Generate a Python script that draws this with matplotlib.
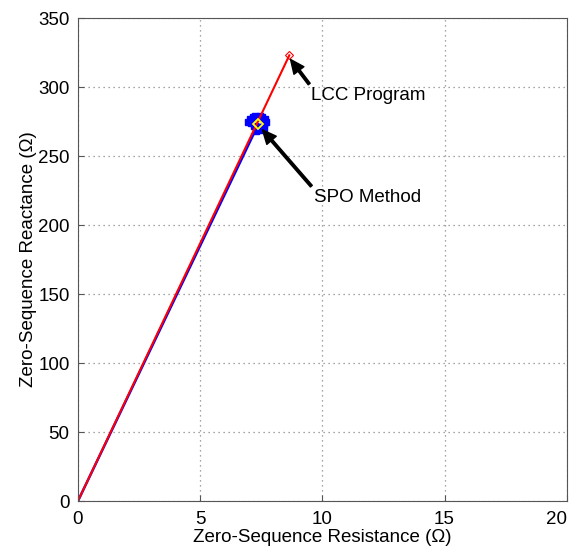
import numpy as np
import matplotlib.pyplot as plt

plt.rcParams['font.family'] = ['Liberation Sans', 'DejaVu Sans']

# LCC program result (red) and SPO method estimates (blue)
lcc_r = [0.0, 8.65]
lcc_x = [0.0, 323.0]
spo_r = [0.0, 7.38]
spo_x = [0.0, 273.0]
spo_cloud_r = [6.95, 7.05, 7.15, 7.25, 7.35, 7.45, 7.55, 7.65, 7.7, 7.2, 7.3, 7.4, 7.5, 7.6, 7.3, 7.45, 7.1, 7.6]
spo_cloud_x = [275, 277, 278, 279, 278, 279, 278, 277, 275, 272, 271, 270, 271, 273, 268, 269, 274, 270]

fig = plt.figure(figsize=(5.73, 5.47), dpi=100)
ax = fig.add_axes([0.136, 0.084, 0.853, 0.883])

ax.plot(spo_r, spo_x, color='blue', lw=1.8)
ax.plot(spo_cloud_r, spo_cloud_x, 's', color='blue', ms=4, mec='blue')
ax.plot(lcc_r, lcc_x, color='red', lw=1.5)
ax.plot(lcc_r[-1], lcc_x[-1], 'D', mfc='none', mec='red', ms=4, mew=0.8)
ax.plot(spo_r[-1], spo_x[-1], 'D', mfc='none', mec='yellow', ms=5, mew=1.3)

ax.set_xlim(0, 20)
ax.set_ylim(0, 350)
ax.set_xticks([0, 5, 10, 15, 20])
ax.set_yticks(np.arange(0, 351, 50))
ax.grid(True, color='#888888', linestyle=(0, (1, 3)), lw=0.9)
ax.tick_params(direction='in', labelsize=13.5, length=4, color='#555555')
ax.tick_params(axis='x', pad=7)
ax.tick_params(axis='y', pad=6)
for s in ax.spines.values():
    s.set_color('#555555')
ax.get_xticklabels()[-1].set_ha('right')

ax.set_xlabel('Zero-Sequence Resistance (\u03a9)', fontsize=13.5, va='baseline')
ax.xaxis.set_label_coords(0.5, -0.085)
ax.set_ylabel('Zero-Sequence Reactance (\u03a9)', fontsize=13.5, labelpad=1)

arrow = dict(facecolor='black', edgecolor='black', width=1.8, headwidth=9, headlength=10)
ax.annotate('LCC Program', xy=(8.7, 320), xytext=(9.55, 294), fontsize=13.5,
            arrowprops=arrow, va='center', ha='left')
ax.annotate('SPO Method', xy=(7.55, 269), xytext=(9.65, 220), fontsize=13.5,
            arrowprops=arrow, va='center', ha='left')

plt.savefig('out.png', dpi=100)
